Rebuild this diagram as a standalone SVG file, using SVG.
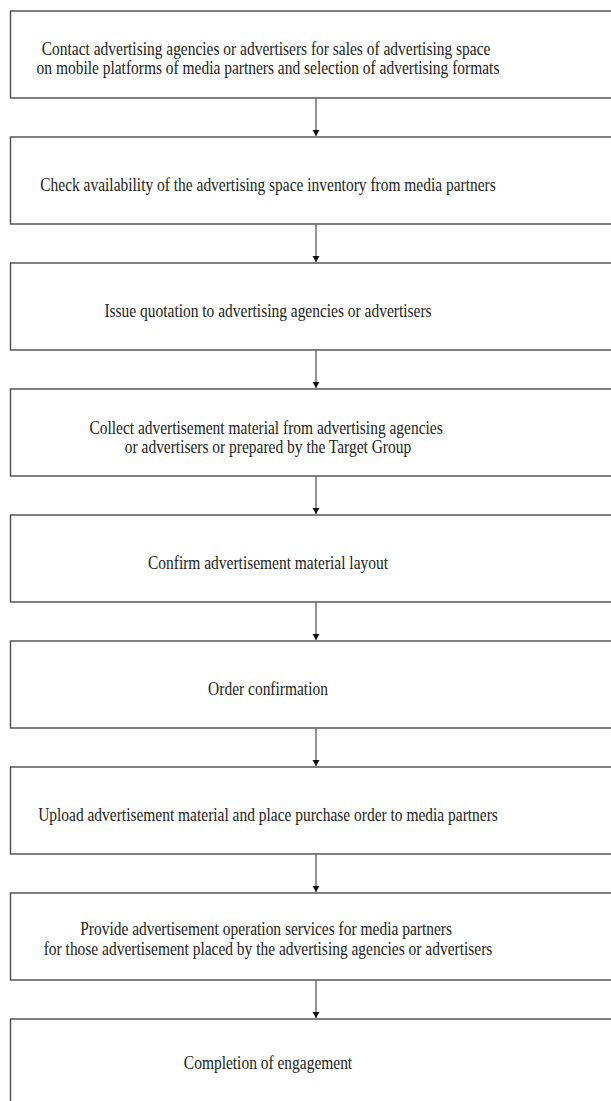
<svg xmlns="http://www.w3.org/2000/svg" width="611" height="1101" viewBox="0 0 611 1101">
  <style>
    .box { fill: #ffffff; stroke: #4a4a4a; stroke-width: 1.4; }
    .lbl { font-family: "Liberation Serif", "Times New Roman", serif; font-size: 18px; fill: #222222; text-anchor: middle; }
    .flow { stroke: #858585; stroke-width: 1.8; fill: none; marker-end: url(#head); }
  </style>
  <defs>
    <marker id="head" markerUnits="userSpaceOnUse" markerWidth="8" markerHeight="8" refX="6" refY="3.5" orient="auto">
      <path d="M0,0 L6,3.5 L0,7 Z" fill="#111111"/>
    </marker>
  </defs>
  <rect width="611" height="1101" fill="#ffffff"/>

  <!-- connectors between consecutive steps -->
  <g id="connectors">
    <line class="flow" x1="316" y1="98.5" x2="316" y2="136"/>
    <line class="flow" x1="316" y1="224.5" x2="316" y2="262"/>
    <line class="flow" x1="316" y1="350.5" x2="316" y2="388"/>
    <line class="flow" x1="316" y1="476.5" x2="316" y2="514"/>
    <line class="flow" x1="316" y1="602.5" x2="316" y2="640"/>
    <line class="flow" x1="316" y1="728.5" x2="316" y2="766"/>
    <line class="flow" x1="316" y1="854.5" x2="316" y2="892"/>
    <line class="flow" x1="316" y1="980.5" x2="316" y2="1018"/>
  </g>

  <g id="step1">
    <rect class="box" x="10.5" y="11" width="620" height="87"/>
    <text class="lbl" transform="translate(268,54.5) scale(0.86,1)">
      <tspan x="0" y="0">Contact advertising agencies or advertisers for sales of advertising space</tspan>
      <tspan x="0" y="20">on mobile platforms of media partners and selection of advertising formats</tspan>
    </text>
  </g>

  <g id="step2">
    <rect class="box" x="10.5" y="137" width="620" height="87"/>
    <text class="lbl" transform="translate(268,190.5) scale(0.86,1)" x="0" y="0">Check availability of the advertising space inventory from media partners</text>
  </g>

  <g id="step3">
    <rect class="box" x="10.5" y="263" width="620" height="87"/>
    <text class="lbl" transform="translate(268,316.5) scale(0.86,1)" x="0" y="0">Issue quotation to advertising agencies or advertisers</text>
  </g>

  <g id="step4">
    <rect class="box" x="10.5" y="389" width="620" height="87"/>
    <text class="lbl" transform="translate(268,433.5) scale(0.86,1)">
      <tspan x="0" y="0">Collect advertisement material from advertising agencies</tspan>
      <tspan x="0" y="20">or advertisers or prepared by the Target Group</tspan>
    </text>
  </g>

  <g id="step5">
    <rect class="box" x="10.5" y="515" width="620" height="87"/>
    <text class="lbl" transform="translate(268,568.5) scale(0.86,1)" x="0" y="0">Confirm advertisement material layout</text>
  </g>

  <g id="step6">
    <rect class="box" x="10.5" y="641" width="620" height="87"/>
    <text class="lbl" transform="translate(268,694.5) scale(0.86,1)" x="0" y="0">Order confirmation</text>
  </g>

  <g id="step7">
    <rect class="box" x="10.5" y="767" width="620" height="87"/>
    <text class="lbl" transform="translate(268,820.5) scale(0.86,1)" x="0" y="0">Upload advertisement material and place purchase order to media partners</text>
  </g>

  <g id="step8">
    <rect class="box" x="10.5" y="893" width="620" height="87"/>
    <text class="lbl" transform="translate(268,935) scale(0.86,1)">
      <tspan x="0" y="0">Provide advertisement operation services for media partners</tspan>
      <tspan x="0" y="20">for those advertisement placed by the advertising agencies or advertisers</tspan>
    </text>
  </g>

  <g id="step9">
    <rect class="box" x="10.5" y="1019" width="620" height="100"/>
    <text class="lbl" transform="translate(268,1069) scale(0.86,1)" x="0" y="0">Completion of engagement</text>
  </g>
</svg>
